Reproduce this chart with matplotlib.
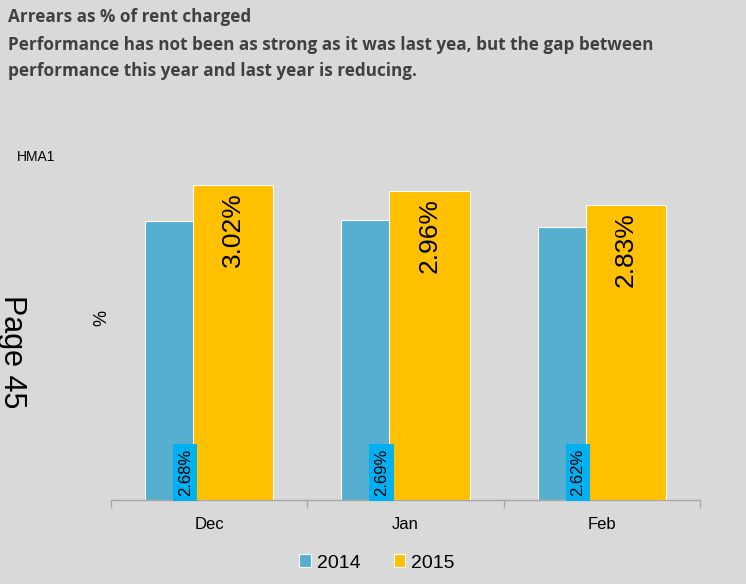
import numpy as np
import matplotlib.pyplot as plt

months = ['Dec', 'Jan', 'Feb']
arrears_2014 = [2.68, 2.69, 2.62]
arrears_2015 = [3.02, 2.96, 2.83]
series_names = ['2014', '2015']

bg = '#D9D9D9'
blue = '#57AFCF'
yellow = '#FFC000'

plt.rcParams['font.family'] = ['Liberation Sans', 'DejaVu Sans']

fig = plt.figure(figsize=(7.46, 5.84), dpi=100, facecolor=bg)
ax = fig.add_axes([111 / 746, 84 / 584, 589 / 746, 344 / 584], facecolor=bg)

x = np.arange(len(months))
w = 0.4075
left_2014 = x - 0.326
left_2015 = x - 0.0815

b1 = ax.bar(left_2014, arrears_2014, width=w, align='edge', color=blue,
            edgecolor='white', linewidth=0.8, label=series_names[0], zorder=2)
b2 = ax.bar(left_2015, arrears_2015, width=w, align='edge', color=yellow,
            edgecolor='white', linewidth=0.8, label=series_names[1], zorder=3)

# labels
for xi, v in zip(left_2014 + w / 2, arrears_2014):
    ax.text(xi, 0.035, f'{v:.2f}%', rotation=90, ha='center', va='bottom',
            fontsize=12, zorder=5,
            bbox=dict(boxstyle='square,pad=0.28', fc='#00B0F0', ec='none'))
for xi, v in zip(left_2015 + w / 2, arrears_2015):
    ax.text(xi, v - 0.065, f'{v:.2f}%', rotation=90, ha='center', va='top',
            fontsize=19, zorder=5)

ax.set_xlim(-0.5, 2.5)
ax.set_ylim(0, 3.3)
ax.set_yticks([])
ax.set_xticks(x)
ax.set_xticklabels(months, fontsize=12)
ax.set_xticks([-0.5, 0.5, 1.5, 2.5], minor=True)
ax.tick_params(axis='x', which='major', length=0, pad=12)
ax.tick_params(axis='x', which='minor', length=6, color='#A6A6A6', width=1)
for s in ['top', 'right', 'left']:
    ax.spines[s].set_visible(False)
ax.spines['bottom'].set_color('#A6A6A6')
ax.spines['bottom'].set_linewidth(1)

leg = fig.legend(handles=[b1, b2], labels=series_names, loc='center',
                 bbox_to_anchor=(377 / 746, 1 - 563 / 584), ncol=2, frameon=False,
                 fontsize=14, handlelength=0.6, handleheight=0.6,
                 handletextpad=0.3, columnspacing=1.7)

title_kw = dict(fontsize=12.3, fontweight='bold', color='#404040', va='center',
                family='Open Sans')
fig.text(8 / 746, 1 - 17 / 584, 'Arrears as % of rent charged', **title_kw)
fig.text(8 / 746, 1 - 45 / 584,
         'Performance has not been as strong as it was last yea, but the gap between',
         **title_kw)
fig.text(8 / 746, 1 - 71 / 584, 'performance this year and last year is reducing.',
         **title_kw)

fig.text(17 / 746, 1 - 157 / 584, 'HMA1', fontsize=10, va='center')
fig.text(96 / 746, 1 - 318 / 584, '%', fontsize=13, rotation=-90, ha='center', va='center')
fig.text(12 / 746, 1 - 352 / 584, 'Page 45', fontsize=22, rotation=-90, ha='center', va='center')

fig.savefig('out.png', dpi=100, facecolor=bg)
